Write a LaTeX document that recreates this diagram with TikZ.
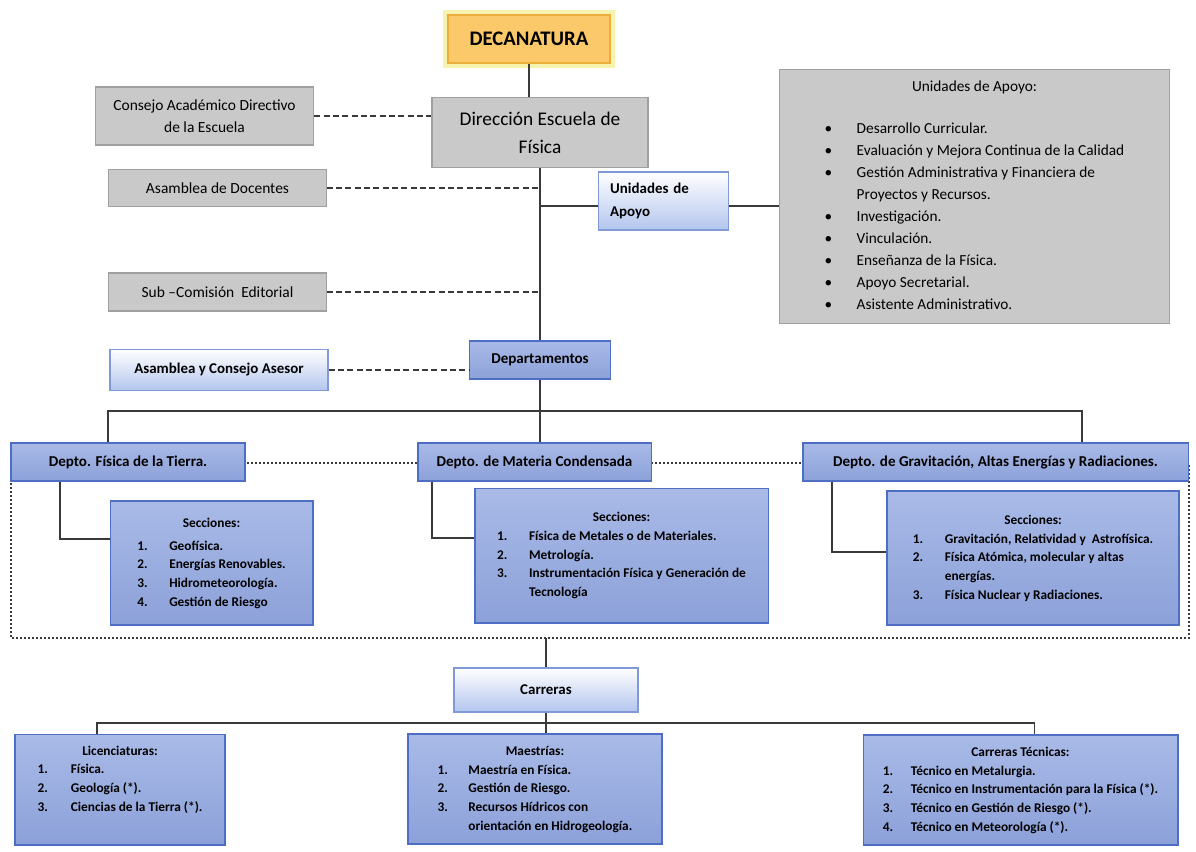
\documentclass[tikz,border=0pt]{standalone}
\usepackage{fontspec}
\setmainfont{Carlito}

\definecolor{grayfill}{HTML}{C9C9C9}
\definecolor{grayline}{HTML}{A0A0A0}
\definecolor{bluetop}{HTML}{A9BAE7}
\definecolor{bluebot}{HTML}{8CA1D9}
\definecolor{blueline}{HTML}{4D6EC2}
\definecolor{palebot}{HTML}{B3C5EE}
\definecolor{paleline}{HTML}{8199D6}
\definecolor{decafill}{HTML}{FBC96A}
\definecolor{decaline}{HTML}{EBAE3C}
\definecolor{decaglow}{HTML}{F2EE8C}
\definecolor{linkgray}{HTML}{3A3A3A}

\begin{document}
\begin{tikzpicture}[
  x=0.75pt, y=-0.75pt,
  graybox/.style={rectangle, draw=grayline, fill=grayfill, line width=0.8pt, align=center, inner sep=2pt, font=\fontsize{11.6pt}{16.5pt}\selectfont},
  bluebox/.style={rectangle, draw=blueline, top color=bluetop, bottom color=bluebot, line width=1pt, align=center, inner sep=2pt, font=\fontsize{11.3pt}{13pt}\selectfont\bfseries},
  palebox/.style={rectangle, draw=paleline, top color=white, bottom color=palebot, line width=0.8pt, align=center, inner sep=2pt, font=\fontsize{11.2pt}{17pt}\selectfont\bfseries},
  listbox/.style={bluebox, font=\fontsize{10pt}{14pt}\selectfont\bfseries},
  link/.style={draw=linkgray, line width=1.3pt},
  dashlink/.style={draw=linkgray, line width=1.3pt, dash pattern=on 4.5pt off 2.5pt},
  framelink/.style={draw=linkgray, line width=1.2pt, dash pattern=on 1.5pt off 1.5pt}
]
\useasboundingbox (0,0) rectangle (1196,851);

% dotted frame round the departments
\draw[framelink] (11,463) rectangle (1189,638);
\coordinate (framebot) at (546,638);

% top of the chart
\node[rectangle, draw=decaline, fill=decafill, line width=1pt, preaction={draw=decaglow, line width=7pt, opacity=0.7},
  minimum width=121.5pt, minimum height=36pt, font=\fontsize{15.5pt}{17pt}\selectfont\bfseries] (decanatura) at (529,39) {DECANATURA};
\node[graybox, minimum width=162pt, minimum height=53pt, font=\fontsize{14.5pt}{21pt}\selectfont] (direccion) at (540,132.5) {Dirección Escuela de\\Física};
\node[graybox, minimum width=164pt, minimum height=43.5pt] (consejo) at (204.5,116) {Consejo Académico Directivo\\de la Escuela};
\node[graybox, minimum width=163pt, minimum height=28pt] (docentes) at (217.5,188) {Asamblea de Docentes};
\node[graybox, minimum width=163pt, minimum height=28.5pt] (subcomision) at (217.5,292) {Sub --Comisión\ \ Editorial};
\node[palebox, minimum width=98pt, minimum height=43.5pt, text width=80pt, inner xsep=9pt, align=left] (unidades) at (663.5,201) {Unidades de\\Apoyo};
\node[graybox, minimum width=292pt, minimum height=190pt, font=\fontsize{11.5pt}{16.5pt}\selectfont] (apoyo) at (974.5,196.5) {%
  \begin{tabular}{@{}p{24pt}@{}l@{}}
  \multicolumn{2}{c}{Unidades de Apoyo:}\\[15pt]
  \textbullet & Desarrollo Curricular.\\
  \textbullet & Evaluación y Mejora Continua de la Calidad\\
  \textbullet & Gestión Administrativa y Financiera de\\
              & Proyectos y Recursos.\\
  \textbullet & Investigación.\\
  \textbullet & Vinculación.\\
  \textbullet & Enseñanza de la Física.\\
  \textbullet & Apoyo Secretarial.\\
  \textbullet & Asistente Administrativo.
  \end{tabular}};
\node[bluebox, minimum width=106pt, minimum height=28.5pt] (departamentos) at (540,360) {Departamentos};
\node[palebox, minimum width=163.5pt, minimum height=31pt] (asesor) at (219,370) {Asamblea y Consejo Asesor};

% departments and their sections
\node[bluebox, minimum width=175.5pt, minimum height=28.5pt] (tierra) at (128,462) {Depto. Física de la Tierra.};
\node[bluebox, minimum width=175pt, minimum height=28.5pt] (materia) at (534.5,462) {Depto. de Materia Condensada};
\node[bluebox, minimum width=289pt, minimum height=28.5pt] (gravitacion) at (995.5,462) {Depto. de Gravitación, Altas Energías y Radiaciones.};
\node[listbox, minimum width=152pt, minimum height=93pt] (secTierra) at (211.5,563) {%
  \begin{tabular}{@{}p{24pt}@{}l@{}}
  \multicolumn{2}{c}{Secciones:}\\[3pt]
  1. & Geofísica.\\
  2. & Energías Renovables.\\
  3. & Hidrometeorología.\\
  4. & Gestión de Riesgo
  \end{tabular}};
\node[listbox, minimum width=220pt, minimum height=101pt] (secMateria) at (621.5,555.5) {%
  \begin{tabular}{@{}p{24pt}@{}l@{}}
  \multicolumn{2}{c}{Secciones:}\\
  1. & Física de Metales o de Materiales.\\
  2. & Metrología.\\
  3. & Instrumentación Física y Generación de\\
     & Tecnología
  \end{tabular}};
\node[listbox, minimum width=219pt, minimum height=100.5pt] (secGrav) at (1033,558) {%
  \begin{tabular}{@{}p{24pt}@{}l@{}}
  \multicolumn{2}{c}{Secciones:}\\
  1. & Gravitación, Relatividad y\ \ Astrofísica.\\
  2. & Física Atómica, molecular y altas\\
     & energías.\\
  3. & Física Nuclear y Radiaciones.
  \end{tabular}};

% careers
\node[palebox, minimum width=138pt, minimum height=33pt] (carreras) at (546,690) {Carreras};
\node[listbox, minimum width=157.5pt, minimum height=83pt] (licenciaturas) at (120,789.5) {%
  \begin{tabular}{@{}p{25pt}@{}l@{}}
  \multicolumn{2}{c}{Licenciaturas:}\\
  1. & Física.\\
  2. & Geología (*).\\
  3. & Ciencias de la Tierra (*).\\[15pt]
  \end{tabular}};
\node[listbox, minimum width=190.5pt, minimum height=82.5pt] (maestrias) at (535,789) {%
  \begin{tabular}{@{}p{23pt}@{}l@{}}
  \multicolumn{2}{c}{Maestrías:}\\
  1. & Maestría en Física.\\
  2. & Gestión de Riesgo.\\
  3. & Recursos Hídricos con\\
     & orientación en Hidrogeología.
  \end{tabular}};
\node[listbox, minimum width=236pt, minimum height=82.5pt] (tecnicas) at (1020.5,790) {%
  \begin{tabular}{@{}p{21pt}@{}l@{}}
  \multicolumn{2}{c}{Carreras Técnicas:}\\
  1. & Técnico en Metalurgia.\\
  2. & Técnico en Instrumentación para la Física (*).\\
  3. & Técnico en Gestión de Riesgo (*).\\
  4. & Técnico en Meteorología (*).
  \end{tabular}};

% connectors
\coordinate (deptbus) at (540,411);
\coordinate (carbus) at (546,723);
\draw[link] (decanatura.south) -- (decanatura.south |- direccion.north);
\draw[link] (direccion.south) -- (departamentos.north);
\draw[dashlink] (consejo.east) -- (consejo.east -| direccion.west);
\draw[dashlink] (docentes.east) -- (docentes.east -| direccion.south);
\draw[dashlink] (subcomision.east) -- (subcomision.east -| direccion.south);
\draw[dashlink] (asesor.east) -- (asesor.east -| departamentos.west);
\draw[link] ([yshift=-4pt]unidades.west -| direccion.south) -- ([yshift=-4pt]unidades.west);
\draw[link] ([yshift=-4pt]unidades.east) -- ([yshift=-4pt]unidades.east -| apoyo.west);
\draw[link] (departamentos.south) -- (deptbus);
\draw[link] ([xshift=73pt]tierra.north west) |- (deptbus) -| ([xshift=210pt]gravitacion.north west);
\draw[link] (deptbus) -- (deptbus |- materia.north);
\draw[link] ([xshift=37pt]tierra.south west) |- ([yshift=-29pt]secTierra.north west);
\draw[link] ([xshift=11pt]materia.south west) |- ([yshift=-38pt]secMateria.north west);
\draw[link] ([xshift=22.5pt]gravitacion.south west) |- ([yshift=-46pt]secGrav.north west);
\draw[link] (framebot) -- (carreras.north);
\draw[link] (carreras.south) -- (carbus);
\draw[link] ([xshift=62pt]licenciaturas.north west) |- (carbus) -| ([xshift=129pt]tecnicas.north west);
\draw[link] (carbus) -- (carbus |- maestrias.north);
\end{tikzpicture}
\end{document}
